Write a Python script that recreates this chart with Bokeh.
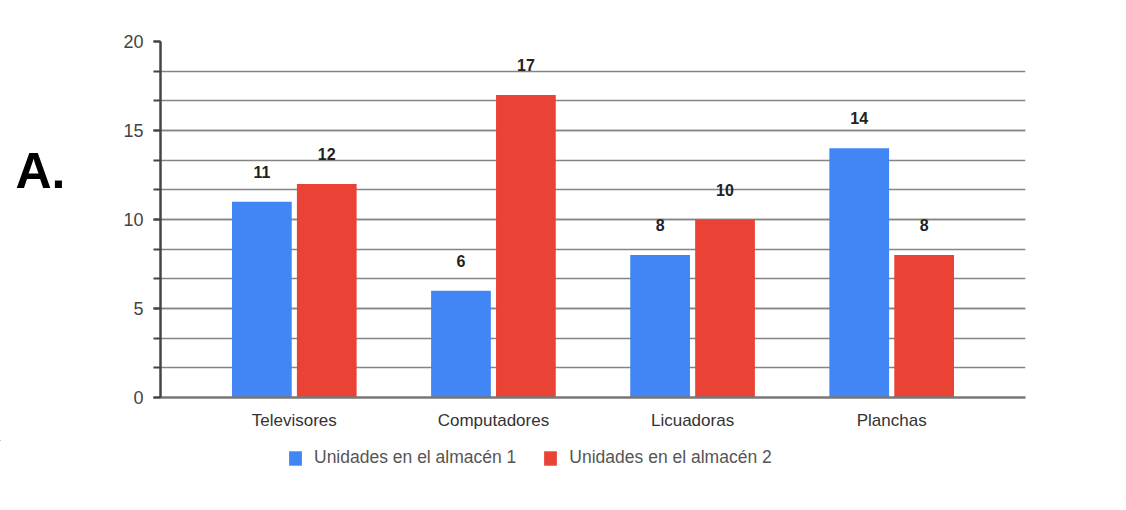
from bokeh.plotting import figure
from bokeh.layouts import row, column
from bokeh.models import (ColumnDataSource, Range1d, FixedTicker, SingleIntervalTicker,
                          LabelSet, Legend, LegendItem)
from bokeh.transform import dodge
from bokeh.core.properties import value
from bokeh.embed import file_html
from bokeh.resources import INLINE

categories = ["Televisores", "Computadores", "Licuadoras", "Planchas"]
almacen1 = [11, 6, 8, 14]
almacen2 = [12, 17, 10, 8]
series_names = ["Unidades en el almacén 1", "Unidades en el almacén 2"]
panel_letter = "A."

BLUE = "#4285F4"
RED = "#EA4335"
FONT = "Liberation Sans"

idx = list(range(len(categories)))
src = ColumnDataSource(dict(x=idx, cat=categories, v1=almacen1, v2=almacen2,
                            l1=[str(v) for v in almacen1], l2=[str(v) for v in almacen2]))

# left strip with the panel letter
fa = figure(width=100, height=440, output_backend="svg", toolbar_location=None,
            x_axis_type=None, y_axis_type=None, min_border=0,
            x_range=Range1d(0, 100), y_range=Range1d(440, 0))
fa.outline_line_color = None
fa.grid.visible = False
fa.text(x=[15], y=[160], text=[panel_letter], text_font=value(FONT), text_font_style="bold",
        text_font_size="50px", text_color="black", text_baseline="middle")

p = figure(width=1026, height=440, output_backend="svg", toolbar_location=None,
           x_range=Range1d(-0.672, 3.672), y_range=Range1d(0, 20),
           min_border_left=60, min_border_right=101, min_border_top=41, min_border_bottom=43)
p.outline_line_color = None
p.background_fill_color = "white"
p.border_fill_color = "white"

off = 0.163
w = 0.30
p.vbar(x=dodge("x", -off), top="v1", width=w, source=src, color=BLUE, line_color=None)
p.vbar(x=dodge("x", off), top="v2", width=w, source=src, color=RED, line_color=None)

for fld, lab, o in (("v1", "l1", -off), ("v2", "l2", off)):
    p.add_layout(LabelSet(x=dodge("x", o), y=fld, text=lab, source=src, y_offset=30,
                          text_align="center", text_baseline="middle",
                          text_font=value(FONT), text_font_style="bold", text_font_size="16px",
                          text_color="#222222"))

# y axis
p.yaxis.ticker = SingleIntervalTicker(interval=5, num_minor_ticks=3)
p.yaxis.axis_line_color = "#444444"
p.yaxis.axis_line_width = 2.5
p.yaxis.major_tick_line_color = "#444444"
p.yaxis.minor_tick_line_color = "#444444"
p.yaxis.major_tick_line_width = 2
p.yaxis.minor_tick_line_width = 2
p.yaxis.major_tick_out = 7
p.yaxis.minor_tick_out = 7
p.yaxis.major_tick_in = 0
p.yaxis.minor_tick_in = 0
p.yaxis.major_label_standoff = 10
p.yaxis.major_label_text_font = FONT
p.yaxis.major_label_text_font_size = "18px"
p.yaxis.major_label_text_color = "#444444"

p.ygrid.ticker = SingleIntervalTicker(interval=5, num_minor_ticks=3)
p.ygrid.grid_line_color = "#858585"
p.ygrid.grid_line_width = 1.5
p.ygrid.minor_grid_line_color = "#858585"
p.ygrid.minor_grid_line_width = 1.5
p.xgrid.grid_line_color = None

# x axis
p.xaxis.ticker = FixedTicker(ticks=idx)
p.xaxis.major_label_overrides = {i: c for i, c in zip(idx, categories)}
p.xaxis.axis_line_color = "#777777"
p.xaxis.axis_line_width = 2.5
p.xaxis.major_tick_line_color = None
p.xaxis.minor_tick_line_color = None
p.xaxis.major_tick_out = 0
p.xaxis.major_label_standoff = 13
p.xaxis.major_label_text_font = FONT
p.xaxis.major_label_text_font_size = "17px"
p.xaxis.major_label_text_color = "#333333"

# legend strip (swatch renderers use the same data but lie outside this strip's view)
fl = figure(width=1126, height=36, output_backend="svg", toolbar_location=None,
            x_axis_type=None, y_axis_type=None, min_border=0,
            x_range=Range1d(100, 101), y_range=Range1d(-2, -1))
fl.outline_line_color = None
fl.grid.visible = False
k1 = fl.vbar(x="x", top="v1", width=w, source=src, color=BLUE, line_color=None)
k2 = fl.vbar(x="x", top="v2", width=w, source=src, color=RED, line_color=None)
legend = Legend(items=[LegendItem(label=series_names[0], renderers=[k1]),
                       LegendItem(label=series_names[1], renderers=[k2])],
                orientation="horizontal", location=(287, 8),
                glyph_width=16, glyph_height=18, label_standoff=11, spacing=26,
                padding=0, margin=0, border_line_color=None, background_fill_alpha=0,
                label_text_font=FONT, label_text_font_size="17.5px", label_text_color="#555555")
fl.add_layout(legend, "center")

open("out.html", "w").write(file_html(column(row(fa, p), fl), INLINE))
